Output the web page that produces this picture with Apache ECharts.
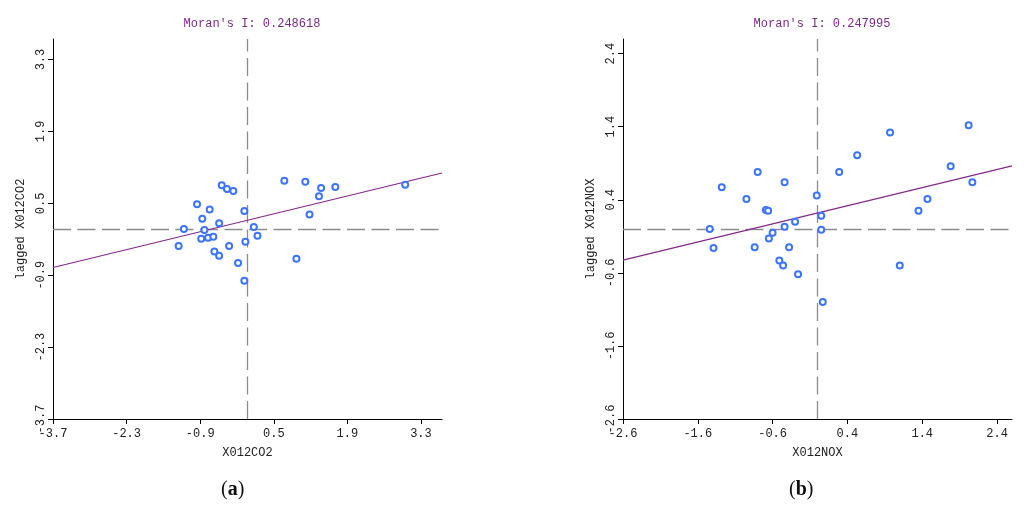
<!DOCTYPE html>
<html lang="en">
<head>
    <meta charset="UTF-8">
    <title>Moran scatter</title>
    <style>
        html, body { margin: 0; padding: 0; background: #fff; }
        #main { width: 1024px; height: 510px; }
    </style>
    <script src="https://cdn.jsdelivr.net/npm/echarts@6/dist/echarts.min.js"></script>
</head>
<body>
<div id="main"></div>
<script>
    // (a) CO2
    let co2X = [-0.49, -0.39, -0.27, 0.70, 1.10, 1.40, 1.67, 1.36, 3.00, -0.96,
                -0.72, -0.86, -0.06, -0.54, -1.21, -0.82, 0.12, 0.19, -0.88, -0.75,
                -0.65, -1.31, -0.04, -0.35, -0.63, -0.54, -0.18, 0.93, -0.06, 1.18];
    let co2Y = [0.85, 0.78, 0.74, 0.94, 0.92, 0.80, 0.82, 0.64, 0.86, 0.48,
                0.38, 0.20, 0.35, 0.11, 0.00, -0.02, 0.04, -0.13, -0.19, -0.17,
                -0.15, -0.33, -0.25, -0.33, -0.44, -0.52, -0.66, -0.58, -1.01, 0.28];
    let co2Moran = 0.248618;
    let co2Intercept = 0.17;
    let co2Ticks = [-3.7, -2.3, -0.9, 0.5, 1.9, 3.3];

    // (b) NOX
    let noxX = [-1.28, -0.95, -0.80, -0.44, -0.69, -0.66, -0.01, 0.29, 0.53, 0.97,
                2.02, 1.78, 2.07, 1.47, 1.35, 0.05, 0.05, -0.30, -0.44, -1.44,
                -0.60, -0.65, -1.39, -0.84, -0.38, -0.51, -0.46, -0.26, 1.10, 0.07];
    let noxY = [0.57, 0.41, 0.78, 0.64, 0.26, 0.25, 0.46, 0.78, 1.01, 1.32,
                1.42, 0.86, 0.64, 0.41, 0.25, 0.18, -0.01, 0.10, 0.03, 0.00,
                -0.05, -0.13, -0.26, -0.25, -0.25, -0.43, -0.50, -0.62, -0.50, -1.00];
    let noxMoran = 0.247995;
    let noxIntercept = 0.22;
    let noxTicks = [-2.6, -1.6, -0.6, 0.4, 1.4, 2.4];

    let mono = 'Liberation Mono';
    let pointColor = '#3d74ff';
    let lineColor = '#86288a';

    function pairs(xs, ys) {
        let out = [];
        for (let i = 0; i < xs.length; i++) out.push([xs[i], ys[i]]);
        return out;
    }

    function xAxisOf(idx, lim, ticks, name) {
        return {
            type: 'value', gridIndex: idx, min: -lim, max: lim,
            name: name, nameLocation: 'middle', nameGap: 28,
            nameTextStyle: { fontFamily: mono, fontSize: 12, color: '#222' },
            axisLine: { show: true, onZero: false, lineStyle: { color: '#000', width: 1 } },
            axisTick: { show: true, length: 5, customValues: ticks, lineStyle: { color: '#000' } },
            axisLabel: {
                customValues: ticks, margin: 9, fontFamily: mono, fontSize: 12, color: '#222',
                formatter: v => v.toFixed(1)
            },
            splitLine: { show: false }
        };
    }

    function yAxisOf(idx, lim, ticks, name) {
        return {
            type: 'value', gridIndex: idx, min: -lim, max: lim,
            name: name, nameLocation: 'middle', nameGap: 26,
            nameTextStyle: { fontFamily: mono, fontSize: 12, color: '#222' },
            axisLine: { show: true, onZero: false, lineStyle: { color: '#000', width: 1 } },
            axisTick: { show: true, length: 5, customValues: ticks, lineStyle: { color: '#000' } },
            axisLabel: {
                customValues: ticks, rotate: 90, margin: 6, fontFamily: mono, fontSize: 12, color: '#222',
                formatter: v => v.toFixed(1)
            },
            splitLine: { show: false }
        };
    }

    function seriesOf(idx, xs, ys, lim, slope, intercept) {
        return [{
            type: 'scatter', xAxisIndex: idx, yAxisIndex: idx,
            data: pairs(xs, ys),
            symbol: 'emptyCircle', symbolSize: 6,
            itemStyle: { color: pointColor, borderColor: pointColor, borderWidth: 1, opacity: 1 },
            z: 3,
            markLine: {
                silent: true, symbol: 'none', label: { show: false },
                lineStyle: { color: '#8c8c8c', type: [18, 6.5], width: 1.3 },
                data: [{ xAxis: 0 }, { yAxis: 0 }],
                z: 1
            }
        }, {
            type: 'line', xAxisIndex: idx, yAxisIndex: idx,
            data: [[-lim, intercept - slope * lim], [lim, intercept + slope * lim]],
            showSymbol: false, symbol: 'none',
            lineStyle: { color: lineColor, width: 1.2 },
            z: 2
        }];
    }

    let chart = echarts.init(document.getElementById('main'));
    let option = {
        animation: false,
        backgroundColor: '#fff',
        title: [{
            text: "Moran's I: " + co2Moran.toFixed(6), left: 247, top: 13, textAlign: 'center',
            textStyle: { fontFamily: mono, fontSize: 12, fontWeight: 'normal', color: '#7b2a86' }
        }, {
            text: "Moran's I: " + noxMoran.toFixed(6), left: 817, top: 13, textAlign: 'center',
            textStyle: { fontFamily: mono, fontSize: 12, fontWeight: 'normal', color: '#7b2a86' }
        }],
        grid: [
            { left: 53, top: 39, width: 389, height: 380, outerBoundsMode: 'none' },
            { left: 623, top: 39, width: 389, height: 380, outerBoundsMode: 'none' }
        ],
        xAxis: [xAxisOf(0, 3.7, co2Ticks, 'X012CO2'), xAxisOf(1, 2.6, noxTicks, 'X012NOX')],
        yAxis: [yAxisOf(0, 3.7, co2Ticks, 'lagged X012CO2'), yAxisOf(1, 2.6, noxTicks, 'lagged X012NOX')],
        series: seriesOf(0, co2X, co2Y, 3.7, co2Moran, co2Intercept)
            .concat(seriesOf(1, noxX, noxY, 2.6, noxMoran, noxIntercept)),
        graphic: [{
            type: 'text', left: 221, top: 480,
            style: {
                text: '({a|a})', fontFamily: 'Liberation Serif', fontSize: 20, fill: '#111',
                rich: { a: { fontFamily: 'Liberation Serif', fontSize: 20, fontWeight: 'bold', fill: '#111' } }
            }
        }, {
            type: 'text', left: 789, top: 480,
            style: {
                text: '({b|b})', fontFamily: 'Liberation Serif', fontSize: 20, fill: '#111',
                rich: { b: { fontFamily: 'Liberation Serif', fontSize: 20, fontWeight: 'bold', fill: '#111' } }
            }
        }]
    };
    option && chart.setOption(option);
</script>
</body>
</html>
